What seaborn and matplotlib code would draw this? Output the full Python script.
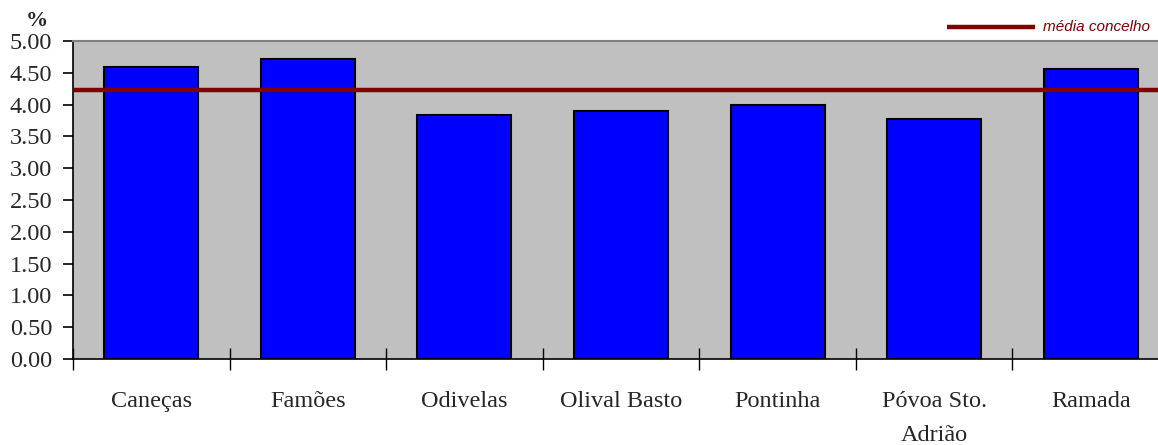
import numpy as np
import pandas as pd
import matplotlib
matplotlib.use("Agg")
from matplotlib import pyplot as plt
import seaborn as sns

freguesias = ["Caneças", "Famões", "Odivelas", "Olival Basto", "Pontinha",
              "Póvoa Sto.\nAdrião", "Ramada"]
valores = [4.59, 4.72, 3.84, 3.90, 3.99, 3.77, 4.56]
media_concelho = 4.23
y_ticks = [0.0, 0.5, 1.0, 1.5, 2.0, 2.5, 3.0, 3.5, 4.0, 4.5, 5.0]

sns.set_style("white")
plt.rcParams["font.family"] = ["Liberation Serif", "DejaVu Serif"]

df = pd.DataFrame({"freguesia": freguesias, "valor": valores})

fig = plt.figure(figsize=(11.58, 4.45), dpi=100)
# plot area runs a little past the right edge of the picture
ax = fig.add_axes([73 / 1158, 1 - 359 / 445, 1096 / 1158, 318 / 445])
ax.set_facecolor("#c0c0c0")

sns.barplot(data=df, x="freguesia", y="valor", color="#0000ff", saturation=1,
            edgecolor="black", linewidth=1.5, width=0.6, ax=ax)
ax.axhline(media_concelho, color="#800000", linewidth=3.2, zorder=5)

ax.set_ylim(0, 5)
ax.set_xlim(-0.5, len(freguesias) - 0.5)
ax.set_yticks(y_ticks)
ax.set_yticklabels([f"{v:.2f}" for v in y_ticks], fontsize=17.5)
ax.tick_params(axis="y", direction="out", length=7, width=1.2, color="black",
               left=True, pad=8)
ax.set_xticks(range(len(freguesias)))
ax.set_xticklabels(freguesias, fontsize=17.5, linespacing=1.8)
ax.tick_params(axis="x", which="major", length=0, pad=23)
ax.set_xticks(np.arange(-0.5, len(freguesias), 1), minor=True)
ax.tick_params(axis="x", which="minor", direction="inout", length=16, width=1,
               color="black", bottom=True)
ax.set_xlabel("")
ax.set_ylabel("")

for side in ["left", "bottom"]:
    ax.spines[side].set_color("black")
    ax.spines[side].set_linewidth(1.2)
ax.spines["top"].set_color("#808080")
ax.spines["top"].set_linewidth(1.5)
ax.spines["right"].set_visible(False)

fig.text(37 / 1158, 1 - 21 / 445, "%", fontsize=16, fontweight="bold",
         ha="center", va="center")

# legend
fig.add_artist(plt.Line2D([947 / 1158, 1035 / 1158], [1 - 27 / 445, 1 - 27 / 445],
                          color="#800000", linewidth=3.2, solid_capstyle="butt"))
fig.text(1043 / 1158, 1 - 27 / 445, "média concelho", fontsize=11,
         style="italic", color="#800000", family=["Liberation Sans", "DejaVu Sans"],
         ha="left", va="center")

fig.savefig("out.png", dpi=100)
